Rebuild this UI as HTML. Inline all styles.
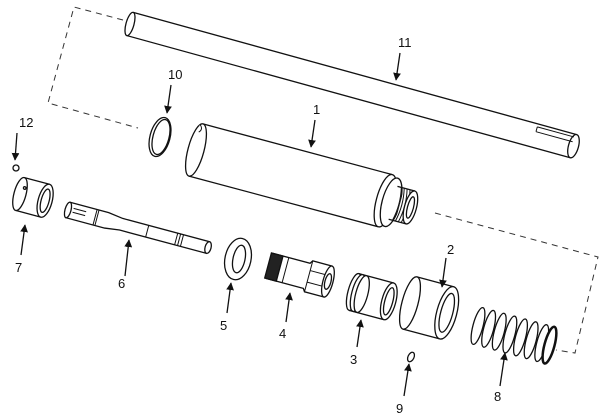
<!DOCTYPE html>
<html><head><meta charset="utf-8"><style>
html,body{margin:0;padding:0;background:#fff;width:600px;height:419px;overflow:hidden}
svg{display:block}
text{font-family:"Liberation Sans",sans-serif;font-size:13px;fill:#111}
</style></head><body>
<svg width="600" height="419" viewBox="0 0 600 419" xmlns="http://www.w3.org/2000/svg">
<defs>
<marker id="ah" viewBox="0 0 10 10" refX="9" refY="5" markerWidth="6" markerHeight="6" orient="auto"><path d="M0,0 L10,5 L0,10 z" fill="#111"/></marker>
</defs>
<g fill="none" stroke="#333" stroke-width="1" stroke-dasharray="6,5">
<polyline points="123,20 74,7 48,103 138,128"/>
<polyline points="435,213 598,257 575,353 556,350"/>
</g>
<g stroke="#111" stroke-width="1.3" fill="#fff">
<!-- rod 11 -->
<g transform="translate(130,24) rotate(15.4)">
<path d="M0,-12 L460,-12 M0,12 L460,12"/>
<ellipse cx="0" cy="0" rx="4" ry="12"/>
<ellipse cx="460" cy="0" rx="5" ry="12"/>
<path d="M420,-9 L458,-9 M420,-4 L458,-4 M420,-9 L420,-4" stroke-width="1"/>
</g>
<!-- ring 10 -->
<ellipse cx="160" cy="137" rx="10" ry="20" transform="rotate(15 160 137)"/>
<ellipse cx="161" cy="137" rx="8" ry="18" transform="rotate(15 161 137)"/>
<!-- 12 -->
<circle cx="16" cy="168" r="3"/>
<!-- cylinder 1 -->
<g transform="translate(196,150) rotate(15)">
<path d="M0,-27 L195,-27 L195,27 L0,27" />
<ellipse cx="0" cy="0" rx="8" ry="27"/>
<path d="M-3,-26 q5,4 1,8" stroke-width="1"/>
<ellipse cx="196" cy="0" rx="9" ry="27"/>
<ellipse cx="202" cy="0" rx="9" ry="25"/>
<path d="M204,-17 L222,-17 M204,17 L222,17"/>
<path d="M208,-17 q4,17 0,34 M211,-17 q4,17 0,34 M214,-17 q4,17 0,34 M217,-17 q4,17 0,34" stroke-width="1"/>
<ellipse cx="222" cy="0" rx="6" ry="17"/>
<ellipse cx="222" cy="0" rx="3" ry="11"/>
</g>
<!-- bushing 7 -->
<g transform="translate(20,194) rotate(15)">
<path d="M0,-17 L26,-17 M0,17 L26,17"/>
<ellipse cx="0" cy="0" rx="6" ry="17"/>
<ellipse cx="26" cy="0" rx="7" ry="17"/>
<ellipse cx="26" cy="0" rx="4" ry="12"/>
<circle cx="3" cy="-7" r="1.3"/>
</g>
<!-- shaft 6 -->
<g transform="translate(68,210) rotate(15)">
<path d="M0,-8 L40,-8 L55,-6 L145,-6 L145,6 L55,6 L40,8 L0,8 Z"/>
<ellipse cx="0" cy="0" rx="3" ry="8"/>
<path d="M5,-3 L18,-3 M5,1 L18,1" stroke-width="1"/>
<path d="M28,-8 L28,8 M30,-8 L30,8 M82,-6 L82,6 M112,-6 L112,6 M115,-6 L115,6 M118,-6 L118,6" stroke-width="1"/>
<ellipse cx="145" cy="0" rx="3" ry="6"/>
</g>
<!-- washer 5 -->
<ellipse cx="238" cy="259" rx="13" ry="21" transform="rotate(12 238 259)"/>
<ellipse cx="239" cy="259" rx="6" ry="14" transform="rotate(12 239 259)"/>
<!-- collet 4 -->
<g transform="translate(270,266) rotate(15)">
<path d="M0,-13 L38,-13 L40,-16 L60,-16 L60,16 L40,16 L38,13 L0,13 Z"/>
<rect x="-2" y="-13" width="12" height="26" fill="#222"/>
<path d="M16,-13 L16,13 M40,-16 L40,16 M40,-6 L60,-6 M40,6 L60,6" stroke-width="1"/>
<ellipse cx="60" cy="0" rx="5" ry="16"/>
<ellipse cx="60" cy="0" rx="3" ry="8"/>
</g>
<!-- sleeve 3 -->
<g transform="translate(354,292) rotate(15)">
<path d="M0,-19 L36,-19 M0,19 L36,19"/>
<ellipse cx="0" cy="0" rx="6" ry="19"/>
<ellipse cx="4" cy="0" rx="6" ry="19"/>
<ellipse cx="8" cy="0" rx="6" ry="19"/>
<ellipse cx="36" cy="0" rx="7" ry="19"/>
<ellipse cx="36" cy="0" rx="4" ry="14"/>
</g>
<!-- ring 2 -->
<g transform="translate(410,303) rotate(15)">
<path d="M0,-27 L38,-27 M0,27 L38,27"/>
<ellipse cx="0" cy="0" rx="8" ry="27"/>
<ellipse cx="38" cy="0" rx="10" ry="27"/>
<ellipse cx="38" cy="0" rx="6" ry="20"/>
</g>
<!-- 9 -->
<ellipse cx="411" cy="357" rx="3" ry="5" transform="rotate(25 411 357)"/>
<!-- spring 8 -->
<g transform="translate(478,326) rotate(15)">
<ellipse cx="0" cy="0" rx="5" ry="19"/>
<ellipse cx="11" cy="0" rx="5" ry="19"/>
<ellipse cx="22" cy="0" rx="5" ry="19"/>
<ellipse cx="33" cy="0" rx="5" ry="19"/>
<ellipse cx="44" cy="0" rx="5" ry="19"/>
<ellipse cx="55" cy="0" rx="5" ry="19"/>
<ellipse cx="66" cy="0" rx="5" ry="19"/>
<ellipse cx="74" cy="0" rx="5" ry="19" stroke-width="2.5"/>
</g>
</g>
<!-- leader arrows -->
<g stroke="#111" stroke-width="1.3" marker-end="url(#ah)">
<line x1="400" y1="53" x2="396" y2="80"/>
<line x1="171" y1="85" x2="167" y2="113"/>
<line x1="17" y1="133" x2="15" y2="160"/>
<line x1="315" y1="120" x2="311" y2="147"/>
<line x1="21" y1="255" x2="25" y2="225"/>
<line x1="125" y1="276" x2="129" y2="240"/>
<line x1="227" y1="313" x2="231" y2="283"/>
<line x1="286" y1="322" x2="290" y2="293"/>
<line x1="357" y1="347" x2="361" y2="320"/>
<line x1="446" y1="258" x2="442" y2="287"/>
<line x1="404" y1="396" x2="409" y2="364"/>
<line x1="500" y1="386" x2="505" y2="353"/>
</g>
<g>
<text x="398" y="47">11</text>
<text x="168" y="79">10</text>
<text x="19" y="127">12</text>
<text x="313" y="114">1</text>
<text x="15" y="272">7</text>
<text x="118" y="288">6</text>
<text x="220" y="330">5</text>
<text x="279" y="338">4</text>
<text x="350" y="364">3</text>
<text x="447" y="254">2</text>
<text x="396" y="413">9</text>
<text x="494" y="401">8</text>
</g>
</svg>
</body></html>
